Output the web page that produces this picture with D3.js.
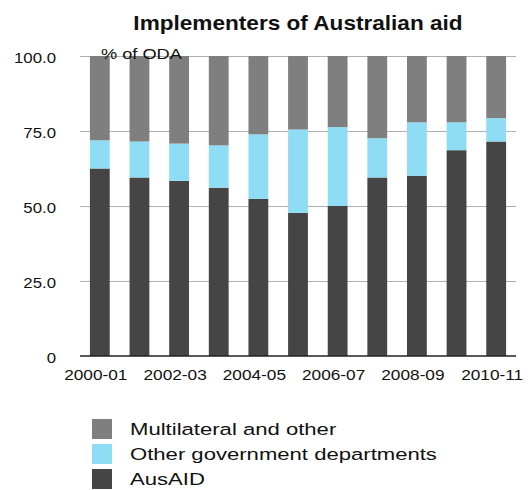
<!DOCTYPE html>
<html>
<head>
<meta charset="utf-8">
<script src="https://cdn.jsdelivr.net/npm/d3@7"></script>
<style>
  html, body { margin: 0; padding: 0; background: #fff; }
  svg { display: block; }
  text { font-family: "Liberation Sans", Arial, Helvetica, sans-serif; fill: #111; }
</style>
</head>
<body>
<svg id="chart" width="530" height="490"></svg>
<script>
const years = ["2000-01","2001-02","2002-03","2003-04","2004-05","2005-06","2006-07","2007-08","2008-09","2009-10","2010-11"];
const ausaid = [62.5, 59.5, 58.4, 56.1, 52.4, 47.7, 50.0, 59.5, 60.1, 68.6, 71.5];
const otherGov = [9.4, 12.0, 12.4, 14.1, 21.5, 27.8, 26.3, 13.1, 17.8, 9.3, 7.8];
const multilateral = [28.1, 28.5, 29.2, 29.8, 26.1, 24.5, 23.7, 27.4, 22.1, 22.1, 20.7];
const yTicks = [0, 25, 50, 75, 100];
const yTickLabels = ["0", "25.0", "50.0", "75.0", "100.0"];
const xTickLabels = ["2000-01","2002-03","2004-05","2006-07","2008-09","2010-11"];
const seriesKeys = ["ausaid", "otherGov", "multilateral"];
const seriesNames = {ausaid: "AusAID", otherGov: "Other government departments", multilateral: "Multilateral and other"};
const seriesColors = {ausaid: "#454545", otherGov: "#8fdcf5", multilateral: "#7f7f7f"};
const legendOrder = ["multilateral", "otherGov", "ausaid"];

const table = years.map((yr, i) => ({year: yr, ausaid: ausaid[i], otherGov: otherGov[i], multilateral: multilateral[i]}));

const svg = d3.select("#chart");
const plotLeft = 80, plotRight = 516, plotTop = 56, plotBottom = 356;

const x = d3.scaleBand().domain(years).range([plotLeft, plotRight]).paddingInner(0.5).paddingOuter(0.25);
const y = d3.scaleLinear().domain([0, 100]).range([plotBottom, plotTop]);

// gridlines + y labels
const grid = svg.append("g").attr("transform", `translate(${plotLeft},0)`)
  .call(d3.axisLeft(y).tickValues(yTicks).tickSize(-(plotRight - plotLeft)).tickFormat((d, i) => yTickLabels[i]));
grid.select(".domain").remove();
grid.selectAll(".tick line").attr("stroke", "#b0b0b0").attr("stroke-width", 1)
  .filter(d => d === 0).remove();
grid.selectAll(".tick text")
  .attr("x", null).attr("dy", null)
  .attr("text-anchor", "end")
  .attr("font-size", 14)
  .attr("fill", "#111")
  .attr("transform", "translate(-24,6.6) scale(1.2,1)");

// bars
const stacked = d3.stack().keys(seriesKeys)(table);
svg.append("g").selectAll("g").data(stacked).join("g")
  .attr("fill", d => seriesColors[d.key])
  .selectAll("rect").data(d => d).join("rect")
  .attr("x", d => x(d.data.year))
  .attr("width", x.bandwidth())
  .attr("y", d => y(d[1]))
  .attr("height", d => y(d[0]) - y(d[1]));

// x axis
const xAxis = svg.append("g").attr("transform", `translate(0,${plotBottom})`)
  .call(d3.axisBottom(x).tickValues(xTickLabels).tickSize(0));
xAxis.select(".domain").attr("stroke", "#222").attr("stroke-width", 1.5)
  .attr("d", `M${plotLeft},0H${plotRight}`);
xAxis.selectAll(".tick text")
  .attr("y", null).attr("dy", null)
  .attr("text-anchor", "middle")
  .attr("font-size", 15)
  .attr("fill", "#111")
  .attr("transform", "translate(-4,24) scale(1.15,1)");

// title
svg.append("text")
  .attr("transform", `translate(${(plotLeft + plotRight) / 2},30) scale(1.13,1)`)
  .attr("text-anchor", "middle")
  .attr("font-size", 20)
  .attr("font-weight", "bold")
  .text("Implementers of Australian aid");

// unit label
svg.append("text")
  .attr("transform", "translate(101,58.5) scale(1.3,1)")
  .attr("font-size", 14)
  .text("% of ODA");

// legend
const lg = svg.append("g").attr("transform", "translate(92,419)");
const items = lg.selectAll("g").data(legendOrder).join("g")
  .attr("transform", (d, i) => `translate(0,${i * 25})`);
items.append("rect").attr("width", 20).attr("height", 20).attr("fill", d => seriesColors[d]);
items.append("text")
  .attr("transform", "translate(38,16) scale(1.3,1)")
  .attr("font-size", 17)
  .text(d => seriesNames[d]);
</script>
</body>
</html>
